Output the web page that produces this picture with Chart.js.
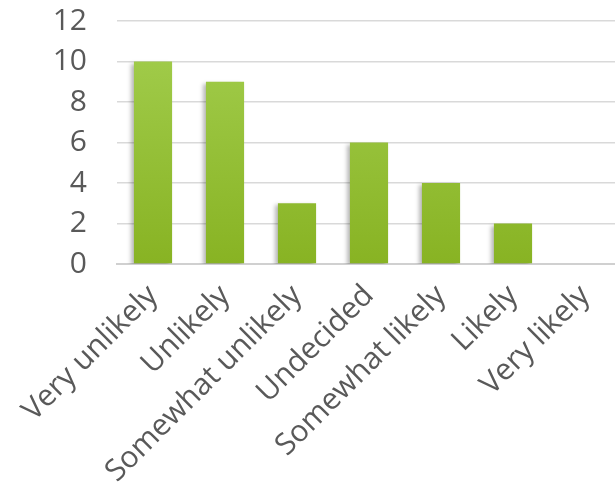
<!DOCTYPE html>
<html>
<head>
<meta charset="utf-8">
<script src="https://cdn.jsdelivr.net/npm/chart.js@4"></script>
<style>
  html, body { margin: 0; padding: 0; background: #fff; overflow: hidden; }
  #wrap { width: 625px; height: 495px; }
</style>
</head>
<body>
<div id="wrap"><canvas id="chart"></canvas></div>
<script>
const categories = ['Very unlikely', 'Unlikely', 'Somewhat unlikely', 'Undecided', 'Somewhat likely', 'Likely', 'Very likely'];
const counts = [10, 9, 3, 6, 4, 2, 0];
const yTicks = [0, 2, 4, 6, 8, 10, 12];

const textColor = '#595959';
const font = 'Open Sans';

// soft drop shadow behind the bars
const barShadow = {
    id: 'barShadow',
    beforeDatasetsDraw(chart) {
        const ctx = chart.ctx;
        ctx.save();
        ctx.shadowColor = 'rgba(0,0,0,0.28)';
        ctx.shadowBlur = 4;
        ctx.shadowOffsetX = -3;
        ctx.shadowOffsetY = 2;
    },
    afterDatasetsDraw(chart) {
        chart.ctx.restore();
    }
};

function barGradient(context) {
    const area = context.chart.chartArea;
    if (!area) return '#93bd35';
    const g = context.chart.ctx.createLinearGradient(0, area.top, 0, area.bottom);
    g.addColorStop(0, '#a4cf50');
    g.addColorStop(1, '#88b323');
    return g;
}

chartInit();

function chartInit(){
    const ctx = document.getElementById('chart').getContext('2d');
    new Chart(ctx, {
        type: 'bar',
        data: {
            labels: categories,
            datasets: [{
                data: counts,
                backgroundColor: barGradient,
                borderWidth: 0,
                barPercentage: 0.53,
                categoryPercentage: 1
            }]
        },
        plugins: [barShadow],
        options: {
            responsive: true,
            maintainAspectRatio: false,
            animation: false,
            layout: { padding: { top: 21, left: 0, right: 4 } },
            plugins: {
                legend: { display: false },
                tooltip: { enabled: false }
            },
            scales: {
                y: {
                    min: 0,
                    max: 12,
                    afterBuildTicks: s => { s.ticks = yTicks.map(v => ({ value: v })); },
                    afterFit: s => { s.width = 117; s.paddingTop = 0; s.paddingBottom = 0; },
                    grid: { color: '#d9d9d9', lineWidth: 1.5, drawTicks: false },
                    border: { display: false },
                    ticks: {
                        color: textColor,
                        autoSkip: false,
                        padding: 30,
                        font: { family: font, size: 30 }
                    }
                },
                x: {
                    afterFit: s => { s.height = 231; s.paddingTop = 0; s.paddingBottom = 0; },
                    grid: { display: false },
                    border: { color: '#d0d0d0', width: 2 },
                    ticks: {
                        color: textColor,
                        autoSkip: false,
                        minRotation: 45,
                        maxRotation: 45,
                        padding: 6,
                        font: { family: font, size: 30 }
                    }
                }
            }
        }
    });
}
</script>
</body>
</html>
